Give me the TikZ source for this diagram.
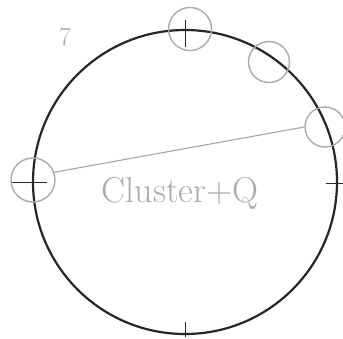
\documentclass[tikz,border=0pt]{standalone}
\usepackage{xcolor}
\definecolor{pencil}{HTML}{ABABAB}
\definecolor{ink}{HTML}{262626}
\begin{document}
\begin{tikzpicture}[x=1pt,y=-1pt,
  bigring/.style={draw=ink,line width=2.2pt,circle,minimum size=304pt,inner sep=0pt},
  smallring/.style={draw=pencil,line width=1.4pt,circle,minimum size=43pt,inner sep=0pt},
  tickmark/.style={draw=ink,line width=1pt},
  link/.style={draw=pencil,line width=1.2pt},
  label/.style={text=pencil,font=\fontsize{36}{36}\selectfont}]
\useasboundingbox (0,0) rectangle (343,338);
\fill[white] (0,0) rectangle (343,338);
\node[bigring] (big) at (185,182) {};
\node[smallring] (top) at (190,29) {};
\node[smallring,minimum size=41pt] (tr) at (269,62) {};
\node[smallring,minimum size=40pt] (right) at (325,127) {};
\node[smallring,minimum size=44pt] (left) at (33,180) {};
\draw[link] (left.20) -- (right.west);
\coordinate (tl1) at (12,182); \coordinate (tl2) at (47,182);
\coordinate (tt1) at (185,20); \coordinate (tt2) at (185,47);
\coordinate (tr1) at (326,183); \coordinate (tr2) at (343,183);
\coordinate (tb1) at (185,322); \coordinate (tb2) at (185,337);
\draw[tickmark] (tl1) -- (tl2);
\draw[tickmark] (tt1) -- (tt2);
\draw[tickmark] (tr1) -- (tr2);
\draw[tickmark] (tb1) -- (tb2);
\node[label] (seven) at (65,37) {\fontsize{26}{26}\selectfont 7};
\node[label] (name) at (180,193) {Cluster+Q};
\end{tikzpicture}
\end{document}
